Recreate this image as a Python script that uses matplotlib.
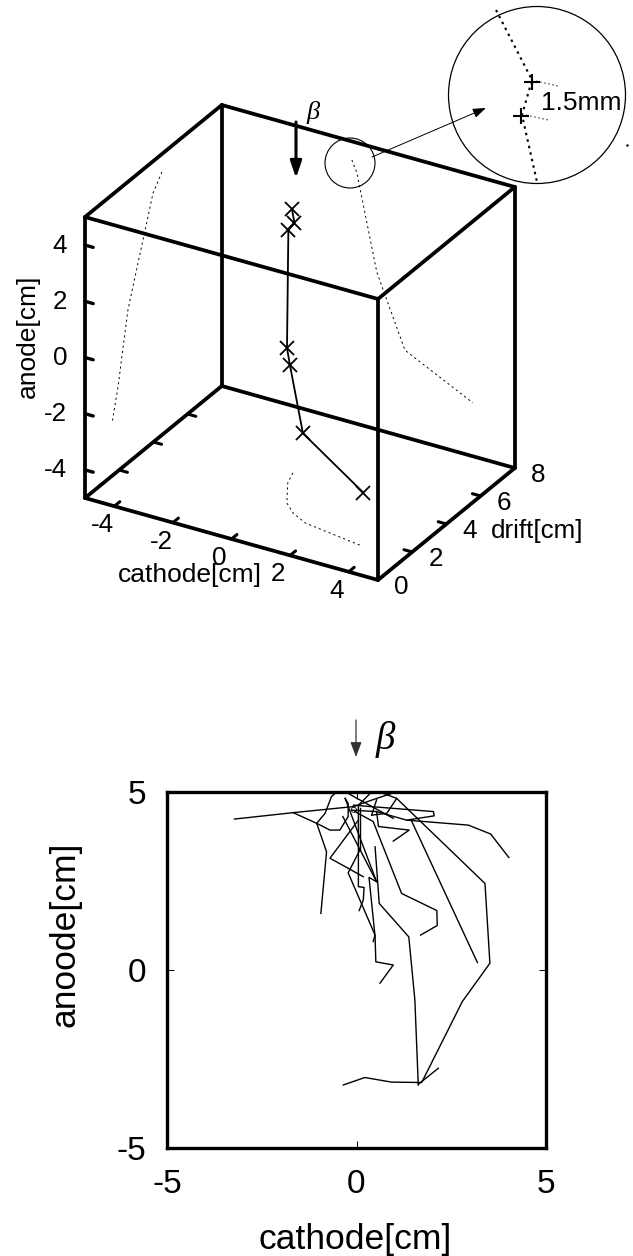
import numpy as np
import matplotlib
matplotlib.use('Agg')
import matplotlib.pyplot as plt
from matplotlib.patches import Circle, FancyArrowPatch

plt.rcParams['font.family'] = ['Liberation Sans', 'DejaVu Sans']

# 3D track (cm)
track_x = [-0.53, -0.45, -0.51, -0.33, 0.29, 1.30, 3.57]
track_y = [4.44, 4.45, 4.20, 3.81, 2.92, 1.95, 1.60]
track_z = [4.39, 3.90, 3.75, -0.20, -0.18, -1.83, -3.11]

# shadows of the track on the walls
back_x = [-0.56, -0.39, 0.29, 1.25, 3.57]
back_z = [4.34, 3.93, 0.60, -1.90, -3.10]
left_y = [4.50, 3.98, 2.51, 1.93, 1.58]
left_z = [4.36, 3.87, 0.44, -2.01, -3.12]
floor_x = [-0.49, -0.31, 0.29, 0.76, 1.38, 3.54]
floor_y = [4.43, 3.82, 2.74, 2.30, 1.95, 1.57]

x_ticks = [-4, -2, 0, 2, 4]
y_ticks = [0, 2, 4, 6, 8]
z_ticks = [-4, -2, 0, 2, 4]

# lower panel, projected tracks (cathode, anode) in cm
tracks_2d = [
    ([-3.22, -1.67, -0.08, 0.53, 0.93], [4.24, 4.42, 4.59, 4.82, 4.96]),
    ([-0.57, -0.66, -0.83, -1.05, -0.79, -0.94], [4.96, 4.87, 4.40, 4.12, 3.32, 1.59]),
    ([-1.67, -1.05, -0.70, -0.44, -0.22, -0.22, -0.30], [4.42, 4.12, 3.93, 3.93, 4.31, 4.68, 4.82]),
    ([-0.30, 0.53, 0.33, 0.49, 0.51, 0.97, 0.62], [4.82, 2.48, 2.60, 0.94, 0.23, 0.14, -0.37]),
    ([-0.36, 0.53], [4.31, 2.48]),
    ([0.05, 0.05, 0.20, 0.18, 0.07], [4.59, 2.34, 2.32, 1.97, 1.67]),
    ([0.09, 0.09], [4.54, 3.37]),
    ([0.05, -0.70, -0.26, 0.18], [4.21, 3.14, 2.88, 2.62]),
    ([0.09, -0.22, 0.49, 0.44], [3.37, 2.73, 0.98, 0.80]),
    ([-0.04, 0.44, 1.19, 2.12, 2.13, 1.69], [4.45, 4.17, 2.15, 1.67, 1.25, 0.98]),
    ([0.49, 0.60, 1.38, 1.54, 1.63], [3.46, 1.87, 0.93, -0.84, -3.23]),
    ([1.06, 3.39, 3.52, 2.79, 1.72, 0.93, 0.22, -0.35], [4.82, 2.43, 0.19, -0.89, -3.16, -3.15, -3.02, -3.23]),
    ([1.63, 2.16], [-3.21, -2.76]),
    ([1.46, 3.19], [4.17, 0.21]),
    ([-0.22, 0.97], [4.96, 4.26]),
    ([0.36, 0.05], [4.96, 4.63]),
    ([0.40, 0.53], [4.35, 4.78]),
    ([-0.13, 0.53, 0.58, 1.39, 0.97], [4.49, 4.45, 4.03, 3.93, 3.62]),
    ([-0.08, 2.03, 2.05, 1.32, 2.95, 3.54, 4.02], [4.63, 4.45, 4.33, 4.21, 4.07, 3.82, 3.16]),
    ([0.71, 1.06, 0.80, 0.40], [4.96, 4.82, 4.40, 4.35]),
    ([0.53, 1.32], [4.45, 4.21]),
]

W, H = 633, 1256
fig = plt.figure(figsize=(W / 100, H / 100), dpi=100)

# top panel is drawn on a full page axes in pixels, gnuplot style 3D box
ax = fig.add_axes([0, 0, 1, 1])
ax.set_xlim(0, W)
ax.set_ylim(H, 0)
ax.axis('off')


def proj(x, y, z):
    x, y, z = np.asarray(x, float), np.asarray(y, float), np.asarray(z, float)
    px = 85 + (x + 5) * 29.3 + y * 17.1
    py = 498 + (x + 5) * 8.2 - y * 14.0 - (z + 5) * 28.1
    return px, py


def line3d(x, y, z, **kw):
    px, py = proj(x, y, z)
    ax.plot(px, py, solid_capstyle='round', **kw)


# box
for (a, b) in [((-5, 0, -5), (5, 0, -5)), ((5, 0, -5), (5, 8, -5)), ((5, 8, -5), (-5, 8, -5)),
               ((-5, 8, -5), (-5, 0, -5)), ((-5, 0, 5), (5, 0, 5)), ((5, 0, 5), (5, 8, 5)),
               ((5, 8, 5), (-5, 8, 5)), ((-5, 8, 5), (-5, 0, 5)), ((-5, 0, -5), (-5, 0, 5)),
               ((5, 0, -5), (5, 0, 5)), ((5, 8, -5), (5, 8, 5)), ((-5, 8, -5), (-5, 8, 5))]:
    line3d([a[0], b[0]], [a[1], b[1]], [a[2], b[2]], color='k', lw=2.7)

# ticks and tick labels
for t in x_ticks:
    line3d([t, t], [0, 0.32], [-5, -5], color='k', lw=2.2)
    px, py = proj(t, 0, -5)
    ax.text(px - 12, py + 19, str(t), ha='center', va='center', fontsize=18.7)
for t in z_ticks:
    line3d([-5, -4.72], [0, 0], [t, t], color='k', lw=2.4)
    px, py = proj(-5, 0, t)
    ax.text(px - 18, py + 0.5, str(t), ha='right', va='center', fontsize=18.7)
for t in y_ticks:
    px, py = proj(5, t, -5)
    ax.text(px + 23.5, py + 7, str(t), ha='center', va='center', fontsize=18.7)
for t in y_ticks[1:-1]:
    line3d([5, 4.72], [t, t], [-5, -5], color='k', lw=2.2)
    line3d([-5, -4.72], [t, t], [-5, -5], color='k', lw=2.2)

ax.text(190, 575, 'cathode[cm]', ha='center', va='center', fontsize=19)
ax.text(537, 531, 'drift[cm]', ha='center', va='center', fontsize=18.7)
ax.text(28, 336, 'anode[cm]', ha='center', va='center', rotation=90, fontsize=19)

# projections on the walls
dots = dict(color='k', lw=0.7, ls=(0, (2.2, 3.2)))
line3d(back_x, [8] * len(back_x), back_z, **dots)
line3d([-5] * len(left_y), left_y, left_z, **dots)
line3d(floor_x, floor_y, [-5] * len(floor_x), **dots)

# track
line3d(track_x, track_y, track_z, color='k', lw=1.3)
px, py = proj(track_x, track_y, track_z)
ax.plot(px, py, ls='none', marker='x', ms=10, mew=1.3, color='k')

# beam arrow
ax.add_patch(FancyArrowPatch((296, 122), (296, 178), arrowstyle='-|>,head_length=0.5,head_width=0.17',
                             mutation_scale=20, color='k', lw=2.2, shrinkA=0, shrinkB=0))
ax.text(313, 113, 'β', family='Liberation Serif', style='italic', ha='center', va='center', fontsize=19)

# zoom circle
ax.add_patch(Circle((350, 163), 25, fill=False, ec='k', lw=0.8))
ax.add_patch(Circle((537, 95), 88.5, fill=False, ec='k', lw=0.9))
ax.add_patch(FancyArrowPatch((372, 157), (486, 108), arrowstyle='-|>,head_length=0.5,head_width=0.18',
                             mutation_scale=16, color='k', lw=0.7, shrinkA=0, shrinkB=0))
ins_x = [496, 532, 522, 537]
ins_y = [10, 80, 115, 182]
ax.plot(ins_x, ins_y, color='k', lw=1.5, ls=(0, (1.2, 2.0)))
ax.plot([532, 521], [82, 116], ls='none', marker='+', ms=12, mew=1.5, color='k')
ax.plot([536, 558], [81, 86], color='k', lw=0.6, ls=(0, (2, 3)))
ax.plot([526, 548], [115, 120], color='k', lw=0.6, ls=(0, (2, 3)))
ax.text(581, 103, '1.5mm', ha='center', va='center', fontsize=19)
ax.plot([627], [145], marker='.', ms=1.5, color='k')

# lower panel
ax2 = fig.add_axes([167 / W, 1 - 1148 / H, 379 / W, 356 / H])
for tx, ty in tracks_2d:
    ax2.plot(tx, ty, color='k', lw=1.0)
ax2.add_patch(Circle((-0.07, 4.5), 0.07, fill=False, ec='k', lw=0.6))
ax2.set_xlim(-5, 5)
ax2.set_ylim(-5, 5)
ax2.set_xticks([-5, 0, 5])
ax2.set_yticks([-5, 0, 5])
ax2.tick_params(direction='in', top=True, right=True, length=5, width=0.7, labelsize=24)
ax2.tick_params(axis='x', pad=15)
ax2.tick_params(axis='y', pad=15)
ax2.set_xticklabels(['-5', '0', '5'])
ax2.set_yticklabels(['-5', '0', '5'])
for s in ax2.spines.values():
    s.set_linewidth(2.4)
ax2.set_xlabel('cathode[cm]', fontsize=25.5, va='center')
ax2.set_ylabel('anoode[cm]', fontsize=25.5, va='center')
ax2.xaxis.set_label_coords(0.497, -0.258)
ax2.yaxis.set_label_coords(-0.269, 0.60)

ax.add_patch(FancyArrowPatch((356, 720), (356, 757), arrowstyle='-|>,head_length=0.45,head_width=0.17',
                             mutation_scale=20, color='#333333', lw=0.9, shrinkA=0, shrinkB=0))
ax.text(385, 739, 'β', family='Liberation Serif', style='italic', ha='center', va='center', fontsize=28)

fig.savefig('out.png', dpi=100)
